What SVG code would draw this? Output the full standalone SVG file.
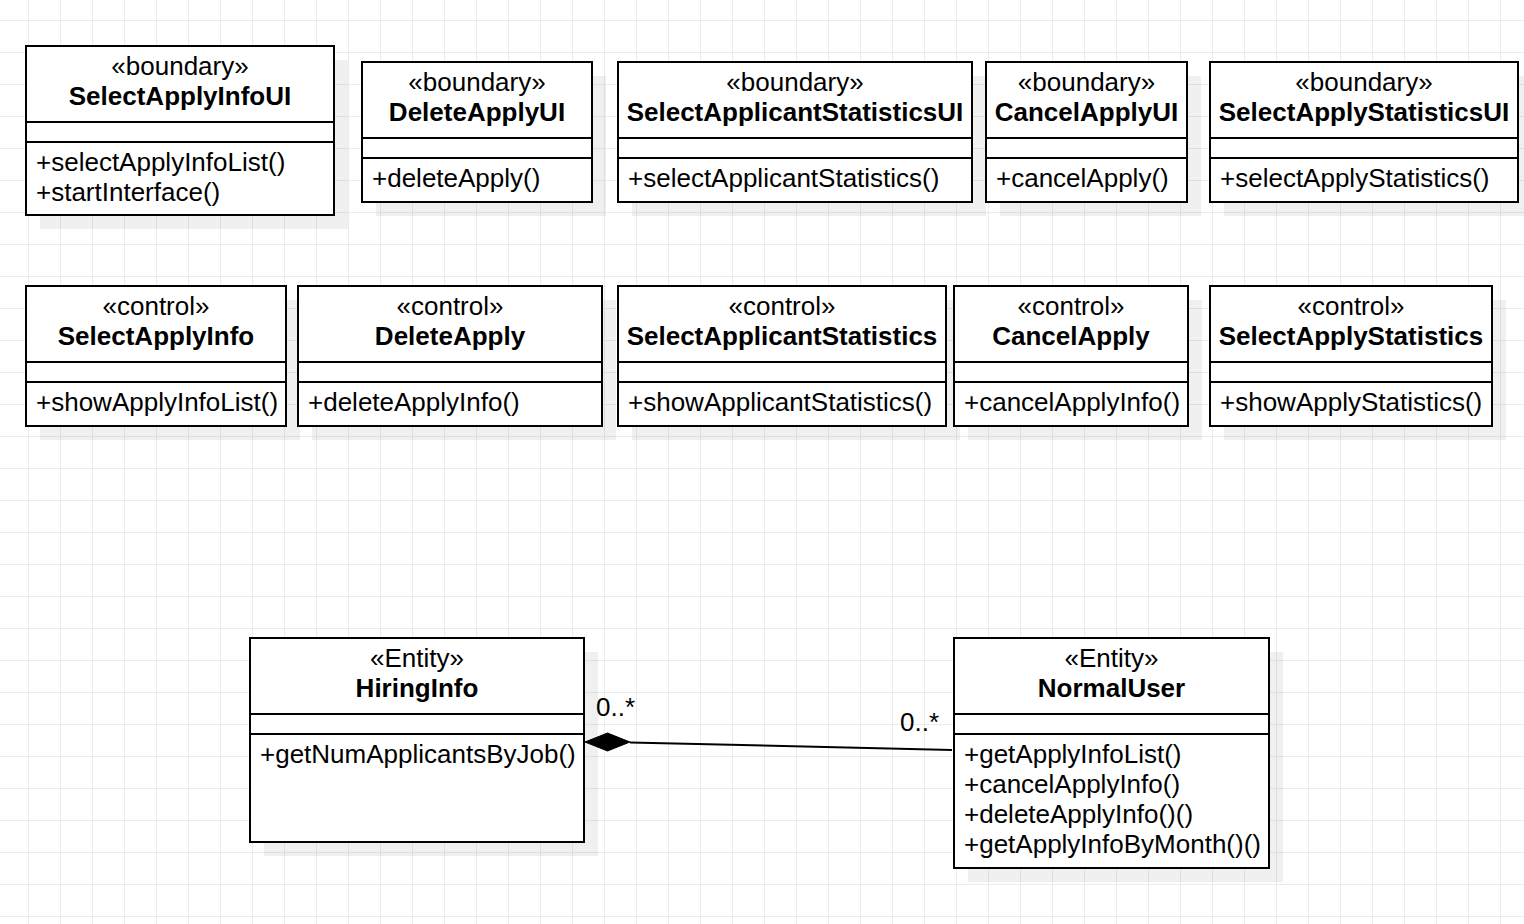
<svg xmlns="http://www.w3.org/2000/svg" width="1524" height="924" viewBox="0 0 1524 924">
<defs>
<pattern id="grid" patternUnits="userSpaceOnUse" x="28" y="20" width="32" height="32">
<path d="M0.5 0 V32 M0 0.5 H32" stroke="#ebebeb" stroke-width="1" fill="none"/>
</pattern>
<style>
.shadow{fill:#000;fill-opacity:0.06;stroke:none}
.box{fill:#fff;stroke:#000;stroke-width:2}
.div{stroke:#000;stroke-width:2}
text{font-family:"Liberation Sans",Arial,sans-serif;font-size:26px;fill:#000}
.st{text-anchor:middle}
.nm{text-anchor:middle;font-weight:bold}
.conn{stroke:#000;stroke-width:2;fill:none}
</style>
</defs>
<rect width="1524" height="924" fill="#fff"/>
<rect width="1524" height="924" fill="url(#grid)"/>

<g id="SelectApplyInfoUI">
<rect class="shadow" x="40" y="60" width="308" height="169"/>
<rect class="box" x="26" y="46" width="308" height="169"/>
<line class="div" x1="26" y1="122" x2="334" y2="122"/><line class="div" x1="26" y1="142" x2="334" y2="142"/>
<text class="st" x="180" y="75">«boundary»</text><text class="nm" x="180" y="105">SelectApplyInfoUI</text>
<text x="36" y="171">+selectApplyInfoList()</text><text x="36" y="201">+startInterface()</text>
</g>

<g id="DeleteApplyUI">
<rect class="shadow" x="376" y="76" width="230" height="140"/>
<rect class="box" x="362" y="62" width="230" height="140"/>
<line class="div" x1="362" y1="138" x2="592" y2="138"/><line class="div" x1="362" y1="158" x2="592" y2="158"/>
<text class="st" x="477" y="91">«boundary»</text><text class="nm" x="477" y="121">DeleteApplyUI</text>
<text x="372" y="187">+deleteApply()</text>
</g>

<g id="SelectApplicantStatisticsUI">
<rect class="shadow" x="632" y="76" width="354" height="140"/>
<rect class="box" x="618" y="62" width="354" height="140"/>
<line class="div" x1="618" y1="138" x2="972" y2="138"/><line class="div" x1="618" y1="158" x2="972" y2="158"/>
<text class="st" x="795" y="91">«boundary»</text><text class="nm" x="795" y="121">SelectApplicantStatisticsUI</text>
<text x="628" y="187">+selectApplicantStatistics()</text>
</g>

<g id="CancelApplyUI">
<rect class="shadow" x="1000" y="76" width="201" height="140"/>
<rect class="box" x="986" y="62" width="201" height="140"/>
<line class="div" x1="986" y1="138" x2="1187" y2="138"/><line class="div" x1="986" y1="158" x2="1187" y2="158"/>
<text class="st" x="1086.5" y="91">«boundary»</text><text class="nm" x="1086.5" y="121">CancelApplyUI</text>
<text x="996" y="187">+cancelApply()</text>
</g>

<g id="SelectApplyStatisticsUI">
<rect class="shadow" x="1224" y="76" width="308" height="140"/>
<rect class="box" x="1210" y="62" width="308" height="140"/>
<line class="div" x1="1210" y1="138" x2="1518" y2="138"/><line class="div" x1="1210" y1="158" x2="1518" y2="158"/>
<text class="st" x="1364" y="91">«boundary»</text><text class="nm" x="1364" y="121">SelectApplyStatisticsUI</text>
<text x="1220" y="187">+selectApplyStatistics()</text>
</g>

<g id="SelectApplyInfo">
<rect class="shadow" x="40" y="300" width="260" height="140"/>
<rect class="box" x="26" y="286" width="260" height="140"/>
<line class="div" x1="26" y1="362" x2="286" y2="362"/><line class="div" x1="26" y1="382" x2="286" y2="382"/>
<text class="st" x="156" y="315">«control»</text><text class="nm" x="156" y="345">SelectApplyInfo</text>
<text x="36" y="411">+showApplyInfoList()</text>
</g>

<g id="DeleteApply">
<rect class="shadow" x="312" y="300" width="304" height="140"/>
<rect class="box" x="298" y="286" width="304" height="140"/>
<line class="div" x1="298" y1="362" x2="602" y2="362"/><line class="div" x1="298" y1="382" x2="602" y2="382"/>
<text class="st" x="450" y="315">«control»</text><text class="nm" x="450" y="345">DeleteApply</text>
<text x="308" y="411">+deleteApplyInfo()</text>
</g>

<g id="SelectApplicantStatistics">
<rect class="shadow" x="632" y="300" width="328" height="140"/>
<rect class="box" x="618" y="286" width="328" height="140"/>
<line class="div" x1="618" y1="362" x2="946" y2="362"/><line class="div" x1="618" y1="382" x2="946" y2="382"/>
<text class="st" x="782" y="315">«control»</text><text class="nm" x="782" y="345">SelectApplicantStatistics</text>
<text x="628" y="411">+showApplicantStatistics()</text>
</g>

<g id="CancelApply">
<rect class="shadow" x="968" y="300" width="234" height="140"/>
<rect class="box" x="954" y="286" width="234" height="140"/>
<line class="div" x1="954" y1="362" x2="1188" y2="362"/><line class="div" x1="954" y1="382" x2="1188" y2="382"/>
<text class="st" x="1071" y="315">«control»</text><text class="nm" x="1071" y="345">CancelApply</text>
<text x="964" y="411">+cancelApplyInfo()</text>
</g>

<g id="SelectApplyStatistics">
<rect class="shadow" x="1224" y="300" width="282" height="140"/>
<rect class="box" x="1210" y="286" width="282" height="140"/>
<line class="div" x1="1210" y1="362" x2="1492" y2="362"/><line class="div" x1="1210" y1="382" x2="1492" y2="382"/>
<text class="st" x="1351" y="315">«control»</text><text class="nm" x="1351" y="345">SelectApplyStatistics</text>
<text x="1220" y="411">+showApplyStatistics()</text>
</g>

<g id="HiringInfo">
<rect class="shadow" x="264" y="652" width="334" height="204"/>
<rect class="box" x="250" y="638" width="334" height="204"/>
<line class="div" x1="250" y1="714" x2="584" y2="714"/><line class="div" x1="250" y1="734" x2="584" y2="734"/>
<text class="st" x="417" y="667">«Entity»</text><text class="nm" x="417" y="697">HiringInfo</text>
<text x="260" y="763">+getNumApplicantsByJob()</text>
</g>

<g id="NormalUser">
<rect class="shadow" x="968" y="652" width="315" height="230"/>
<rect class="box" x="954" y="638" width="315" height="230"/>
<line class="div" x1="954" y1="714" x2="1269" y2="714"/><line class="div" x1="954" y1="734" x2="1269" y2="734"/>
<text class="st" x="1111.5" y="667">«Entity»</text><text class="nm" x="1111.5" y="697">NormalUser</text>
<text x="964" y="763">+getApplyInfoList()</text>
<text x="964" y="793">+cancelApplyInfo()</text>
<text x="964" y="823">+deleteApplyInfo()()</text>
<text x="964" y="853">+getApplyInfoByMonth()()</text>
</g>

<g id="connectors">
<path class="conn" d="M630 742.5 L952 750"/>
<path d="M585 742 L607.5 733 L630 742 L607.5 751 Z" fill="#000" stroke="#000" stroke-width="1"/>
<text x="596" y="716">0..*</text>
<text x="900" y="731">0..*</text>
</g>
</svg>
